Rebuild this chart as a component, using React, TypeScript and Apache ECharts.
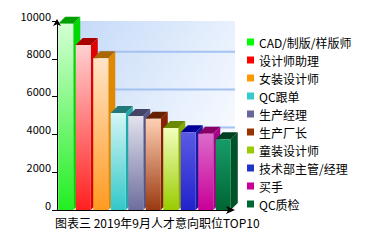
import React, { useEffect, useRef } from "react";
import * as echarts from "echarts";

const categories = [
  "CAD/制版/样版师",
  "设计师助理",
  "女装设计师",
  "QC跟单",
  "生产经理",
  "生产厂长",
  "童装设计师",
  "技术部主管/经理",
  "买手",
  "QC质检",
];
const values = [9860, 8730, 8030, 5130, 4970, 4830, 4340, 4110, 4040, 3740];
const legendColors = ["#00ff00", "#ff0000", "#ff9900", "#33cccc", "#666699", "#993300", "#99cc00", "#2233cc", "#cc0099", "#006633"];
const frontTop = ["#d4ffd4", "#ffd0d0", "#ffe4c8", "#d4f6f6", "#e2e2ee", "#ffd0b4", "#f2ffbc", "#5a5ae6", "#dc6ccc", "#169c68"];
const frontBottom = ["#22ee22", "#ff2020", "#ff9a20", "#33c8c8", "#6e6e9e", "#9a3a10", "#99cc00", "#2222cc", "#c80098", "#006633"];
const sideColors = ["#00d800", "#e00000", "#e08800", "#22a8a8", "#555588", "#882200", "#88aa00", "#1a1aa0", "#aa0088", "#005228"];
const topColors = ["#00a000", "#aa0000", "#aa6600", "#227777", "#444466", "#662200", "#6a8800", "#000099", "#880066", "#003f20"];
const yTicks = [0, 2000, 4000, 6000, 8000, 10000];
const titleText = "图表三 2019年9月人才意向职位TOP10";

const FONT = "'Noto Sans CJK SC', sans-serif";
const DEPTH = 7;

export default function App() {
  const ref = useRef<HTMLDivElement>(null);
  useEffect(() => {
    if (!ref.current) return;
    const chart = echarts.init(ref.current, null, { renderer: "svg" });
    const yMax = yTicks[yTicks.length - 1];
    const interval = yTicks[1] - yTicks[0];

    const wallSeries: any = {
      type: "custom",
      name: "wall",
      silent: true,
      z: 1,
      data: [[0]],
      renderItem: (params: any, api: any) => {
        const bw = api.size([1, 0])[0];
        const first = api.coord([0, yMax]);
        const last = api.coord([categories.length - 1, 0]);
        const left = first[0] - bw / 2 + DEPTH;
        const right = last[0] + bw / 2 + 3;
        const top = first[1];
        const bottom = last[1] - DEPTH;
        const children: any[] = [
          {
            type: "rect",
            shape: { x: left, y: top, width: right - left, height: bottom - top },
            style: {
              fill: new echarts.graphic.LinearGradient(0, 0, 1, 0.7, [
                { offset: 0, color: "#c2d8f8" },
                { offset: 1, color: "#fafcff" },
              ]),
            },
          },
        ];
        yTicks.slice(1, yTicks.length - 1).forEach((t) => {
          const y = api.coord([0, t])[1] - DEPTH;
          children.push({
            type: "line",
            shape: { x1: left, y1: y, x2: right, y2: y },
            style: { stroke: "#a4c2f2", lineWidth: 2 },
          });
        });
        return { type: "group", children };
      },
    };

    const barSeries = categories.map((name, i) => ({
      type: "custom",
      name,
      z: 2 + i,
      itemStyle: { color: legendColors[i] },
      data: [[i, values[i]]],
      renderItem: (params: any, api: any) => {
        const idx = api.value(0);
        const v = api.value(1);
        const topPt = api.coord([idx, v]);
        const basePt = api.coord([idx, 0]);
        const bw = api.size([1, 0])[0];
        const w = bw * 0.86;
        const x0 = topPt[0] - w / 2;
        const x1 = x0 + w;
        const yt = topPt[1];
        const yb = basePt[1];
        return {
          type: "group",
          children: [
            {
              type: "polygon",
              shape: { points: [[x1, yt], [x1 + DEPTH, yt - DEPTH], [x1 + DEPTH, yb - DEPTH], [x1, yb]] },
              style: { fill: sideColors[i] },
            },
            {
              type: "polygon",
              shape: { points: [[x0, yt], [x0 + DEPTH, yt - DEPTH], [x1 + DEPTH, yt - DEPTH], [x1, yt]] },
              style: { fill: topColors[i] },
            },
            {
              type: "rect",
              shape: { x: x0, y: yt, width: w, height: yb - yt },
              style: {
                fill: new echarts.graphic.LinearGradient(0, 0, 0, 1, [
                  { offset: 0, color: frontTop[i] },
                  { offset: 1, color: frontBottom[i] },
                ]),
              },
            },
          ],
        };
      },
    }));

    chart.setOption({
      animation: false,
      backgroundColor: "#ffffff",
      textStyle: { fontFamily: FONT },
      title: {
        text: titleText,
        left: 55,
        top: 216,
        padding: 0,
        textStyle: { fontSize: 12, fontWeight: "normal", color: "#000", fontFamily: FONT },
      },
      legend: {
        data: categories,
        orient: "vertical",
        left: 247,
        top: 36,
        padding: 0,
        itemWidth: 7,
        itemHeight: 7,
        itemGap: 6,
        icon: "rect",
        textStyle: { fontSize: 12, color: "#000", fontFamily: FONT, lineHeight: 12 },
      },
      grid: { left: 57, top: 21, width: 175, height: 189, containLabel: false },
      xAxis: {
        type: "category",
        data: categories,
        z: 20,
        axisLine: { lineStyle: { color: "#000", width: 1 }, symbol: ["none", "arrow"], symbolSize: [6, 9], symbolOffset: [0, 3] },
        axisTick: { show: false },
        axisLabel: { show: false },
        splitLine: { show: false },
      },
      yAxis: {
        type: "value",
        min: 0,
        max: yMax,
        interval,
        z: 20,
        axisLine: { show: true, lineStyle: { color: "#000", width: 1 }, symbol: ["none", "arrow"], symbolSize: [6, 7], symbolOffset: [0, 2] },
        axisTick: { show: true, length: 5, lineStyle: { color: "#000" } },
        axisLabel: {
          fontSize: 11,
          color: "#000",
          margin: 6,
          verticalAlign: "bottom",
          fontFamily: FONT,
          formatter: (v: number) => String(v),
        },
        splitLine: { show: false },
      },
      series: [wallSeries, ...barSeries],
    });
    return () => chart.dispose();
  }, []);
  return <div ref={ref} style={{ position: "fixed", left: 0, top: 0, width: 392, height: 246 }} />;
}
